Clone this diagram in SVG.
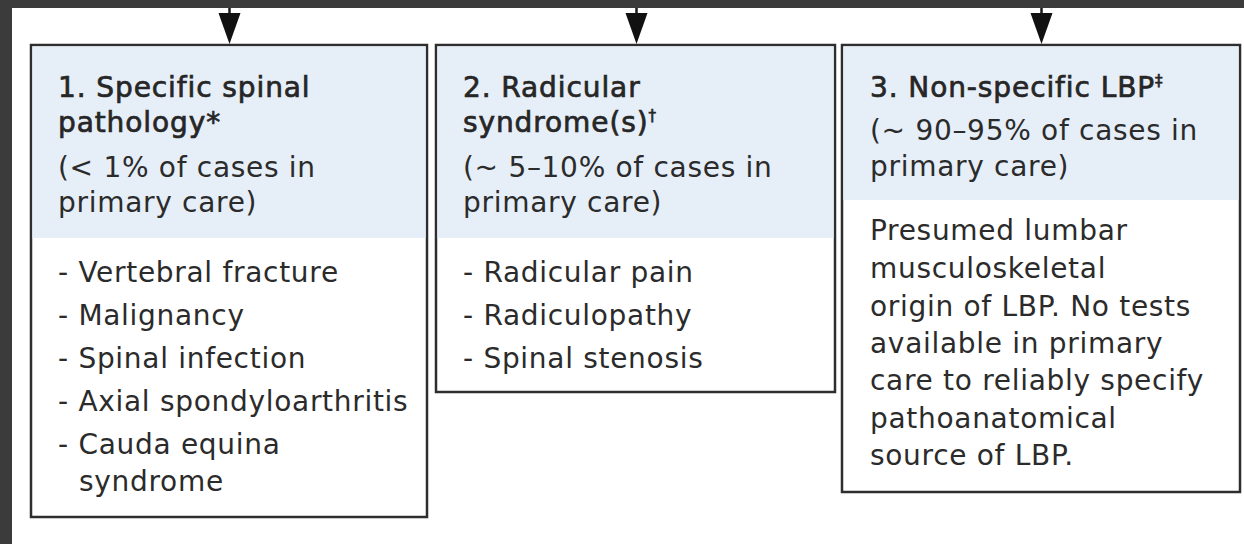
<svg xmlns="http://www.w3.org/2000/svg" width="1244" height="544" viewBox="0 0 1244 544">
  <style>
    .box { fill: #ffffff; stroke: #2e2e2e; stroke-width: 2.5; }
    .hdr { fill: #e6eef8; }
    text { font-family: "DejaVu Sans", "Open Sans", sans-serif; font-size: 28px; fill: #2b2b2b; letter-spacing: 0.7px; }
    .t { fill: #262626; stroke: #262626; stroke-width: 0.7px; letter-spacing: 0.9px; }
    .sup { font-size: 15px; }
    .conn line { stroke: #1a1a1a; stroke-width: 2.5; }
    .conn polygon { fill: #111111; }
  </style>
  <rect x="0" y="0" width="1244" height="544" fill="#ffffff"/>
  <rect x="0" y="0" width="1244" height="8" fill="#3b3b3b"/>
  <rect x="0" y="0" width="12" height="544" fill="#3b3b3b"/>

  <g id="node1">
    <rect class="box" x="31" y="45" width="396" height="472"/>
    <rect class="hdr" x="32.5" y="46.5" width="393" height="191.5"/>
    <text x="58" y="97" class="t">1. Specific spinal</text>
    <text x="58" y="132" class="t">pathology*</text>
    <text x="58" y="177">(&lt; 1% of cases in</text>
    <text x="58" y="212">primary care)</text>
    <text x="58" y="282">- Vertebral fracture</text>
    <text x="58" y="325">- Malignancy</text>
    <text x="58" y="368">- Spinal infection</text>
    <text x="58" y="411">- Axial spondyloarthritis</text>
    <text x="58" y="454">- Cauda equina</text>
    <text x="79" y="491">syndrome</text>
  </g>

  <g id="node2">
    <rect class="box" x="436" y="45" width="399" height="347"/>
    <rect class="hdr" x="437.5" y="46.5" width="396" height="191.5"/>
    <text x="463" y="97" class="t">2. Radicular</text>
    <text x="463" y="132" class="t">syndrome(s)<tspan class="sup" dy="-11">†</tspan></text>
    <text x="463" y="177">(~ 5–10% of cases in</text>
    <text x="463" y="212">primary care)</text>
    <text x="463" y="282">- Radicular pain</text>
    <text x="463" y="325">- Radiculopathy</text>
    <text x="463" y="368">- Spinal stenosis</text>
  </g>

  <g id="node3">
    <rect class="box" x="842" y="45" width="398" height="447"/>
    <rect class="hdr" x="843.5" y="46.5" width="395" height="153.5"/>
    <text x="870" y="97" class="t">3. Non-specific LBP<tspan class="sup" dy="-11">‡</tspan></text>
    <text x="870" y="140">(~ 90–95% of cases in</text>
    <text x="870" y="176">primary care)</text>
    <text x="870" y="240">Presumed lumbar</text>
    <text x="870" y="278">musculoskeletal</text>
    <text x="870" y="316">origin of LBP. No tests</text>
    <text x="870" y="353">available in primary</text>
    <text x="870" y="390">care to reliably specify</text>
    <text x="870" y="428">pathoanatomical</text>
    <text x="870" y="465">source of LBP.</text>
  </g>

  <g class="conn" id="connectors">
    <line x1="229.5" y1="8" x2="229.5" y2="30"/>
    <polygon points="218.5,13 240.5,13 229.5,44"/>
    <line x1="636.5" y1="8" x2="636.5" y2="30"/>
    <polygon points="625.5,13 647.5,13 636.5,44"/>
    <line x1="1041.5" y1="8" x2="1041.5" y2="30"/>
    <polygon points="1030.5,13 1052.5,13 1041.5,44"/>
  </g>
</svg>
